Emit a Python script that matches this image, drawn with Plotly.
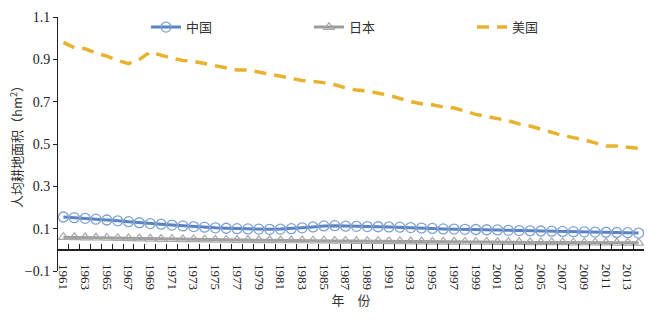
import plotly.graph_objects as go

years = list(range(1961, 2015))
china = [0.155, 0.152, 0.149, 0.145, 0.141, 0.137, 0.133, 0.128, 0.124, 0.121,
         0.117, 0.113, 0.110, 0.107, 0.104, 0.102, 0.100, 0.099, 0.098, 0.097,
         0.098, 0.100, 0.104, 0.108, 0.113, 0.114, 0.112, 0.111, 0.110, 0.109,
         0.108, 0.107, 0.105, 0.103, 0.101, 0.099, 0.098, 0.097, 0.096, 0.095,
         0.094, 0.092, 0.091, 0.090, 0.089, 0.088, 0.087, 0.086, 0.085, 0.084,
         0.083, 0.082, 0.081, 0.079]
japan = [0.060, 0.059, 0.058, 0.057, 0.056, 0.055, 0.054, 0.053, 0.052, 0.051,
         0.050, 0.049, 0.049, 0.048, 0.047, 0.047, 0.046, 0.046, 0.045, 0.045,
         0.044, 0.044, 0.044, 0.043, 0.043, 0.042, 0.042, 0.041, 0.041, 0.041,
         0.040, 0.040, 0.039, 0.039, 0.038, 0.038, 0.038, 0.037, 0.037, 0.037,
         0.036, 0.036, 0.036, 0.035, 0.035, 0.035, 0.035, 0.034, 0.034, 0.034,
         0.034, 0.033, 0.033, 0.033]
usa = [0.980, 0.955, 0.950, 0.930, 0.915, 0.895, 0.880, 0.900, 0.935, 0.920,
       0.905, 0.895, 0.890, 0.880, 0.870, 0.860, 0.850, 0.850, 0.840, 0.830,
       0.820, 0.810, 0.800, 0.795, 0.790, 0.780, 0.765, 0.755, 0.750, 0.740,
       0.730, 0.715, 0.700, 0.690, 0.685, 0.675, 0.670, 0.655, 0.640, 0.630,
       0.620, 0.610, 0.595, 0.585, 0.570, 0.555, 0.540, 0.530, 0.520, 0.505,
       0.490, 0.490, 0.485, 0.480]

series_names = ["中国", "日本", "美国"]
year_ticks = list(range(1961, 2014, 2))
y_ticks = [-0.1, 0.1, 0.3, 0.5, 0.7, 0.9, 1.1]
y_ticktext = ["−0.1", "0.1", "0.3", "0.5", "0.7", "0.9", "1.1"]
y_range = [-0.1, 1.1]
x_range = [1960.5, 2014.5]

W, H = 648, 326
ML, MR, MT, MB = 58, 4, 17, 55

serif = "Liberation Serif, Times New Roman, serif"
cjk = "Noto Sans CJK SC"

fig = go.Figure()
fig.add_trace(go.Scatter(
    x=years, y=china, name=series_names[0], mode="lines+markers", legend="legend",
    line=dict(color="#5a83c2", width=3),
    marker=dict(symbol="circle-open", size=10, color="#7fa2d4", line=dict(width=1.3)),
))
fig.add_trace(go.Scatter(
    x=years, y=japan, name=series_names[1], mode="lines+markers", legend="legend2",
    line=dict(color="#9d9d9d", width=3),
    marker=dict(symbol="triangle-up-open", size=9, color="#a8a8a8", line=dict(width=1.2)),
))
fig.add_trace(go.Scatter(
    x=years, y=usa, name=series_names[2], mode="lines", legend="legend3",
    line=dict(color="#e8b22e", width=3.5, dash="12px,8px"),
))
# invisible helper trace for the category axis drawn at y = 0
fig.add_trace(go.Scatter(x=[x_range[0]], y=[0], xaxis="x2", mode="markers",
                         marker=dict(opacity=0), showlegend=False, hoverinfo="skip"))

zero_pos = (0 - y_range[0]) / (y_range[1] - y_range[0])


def leg(xpix):
    return dict(orientation="h", x=(xpix - ML) / (W - ML - MR), y=0.96,
                xanchor="left", yanchor="middle",
                font=dict(family=cjk, size=13, color="#333"),
                bgcolor="rgba(0,0,0,0)")


fig.update_layout(
    width=W, height=H,
    margin=dict(l=ML, r=MR, t=MT, b=MB),
    paper_bgcolor="white", plot_bgcolor="white",
    showlegend=True,
    legend=leg(146), legend2=leg(309), legend3=leg(472),
    xaxis=dict(range=x_range, tickmode="array", tickvals=year_ticks,
               ticktext=[str(v) for v in year_ticks], tickangle=90,
               showline=False, ticks="", showgrid=False, zeroline=False,
               ticklabelstandoff=-8,
               tickfont=dict(family=serif, size=13, color="#222"),
               title=dict(text="年　份", font=dict(family=cjk, size=13, color="#333"),
                          standoff=4)),
    xaxis2=dict(range=x_range, overlaying="x", anchor="free", position=zero_pos,
                side="bottom", tickmode="array",
                tickvals=[x_range[0] + i for i in range(int(x_range[1] - x_range[0]) + 1)],
                ticks="inside", ticklen=5, tickcolor="#222", tickwidth=1,
                showticklabels=False, showline=True, linecolor="#222", linewidth=1.5,
                showgrid=False, zeroline=False),
    yaxis=dict(range=y_range, tickmode="array", tickvals=y_ticks, ticktext=y_ticktext,
               showline=True, linecolor="#222", linewidth=1, ticks="outside",
               ticklen=4, tickcolor="#222", showgrid=False, zeroline=False,
               tickfont=dict(family=serif, size=14, color="#222")),
    annotations=[dict(text="人均耕地面积（hm<sup>2</sup>）", xref="paper", yref="paper",
                      x=0, y=0.5, xshift=-42, xanchor="center", yanchor="middle",
                      textangle=-90, showarrow=False,
                      font=dict(family=cjk, size=13, color="#333"))],
)

fig.write_html("out.html")
